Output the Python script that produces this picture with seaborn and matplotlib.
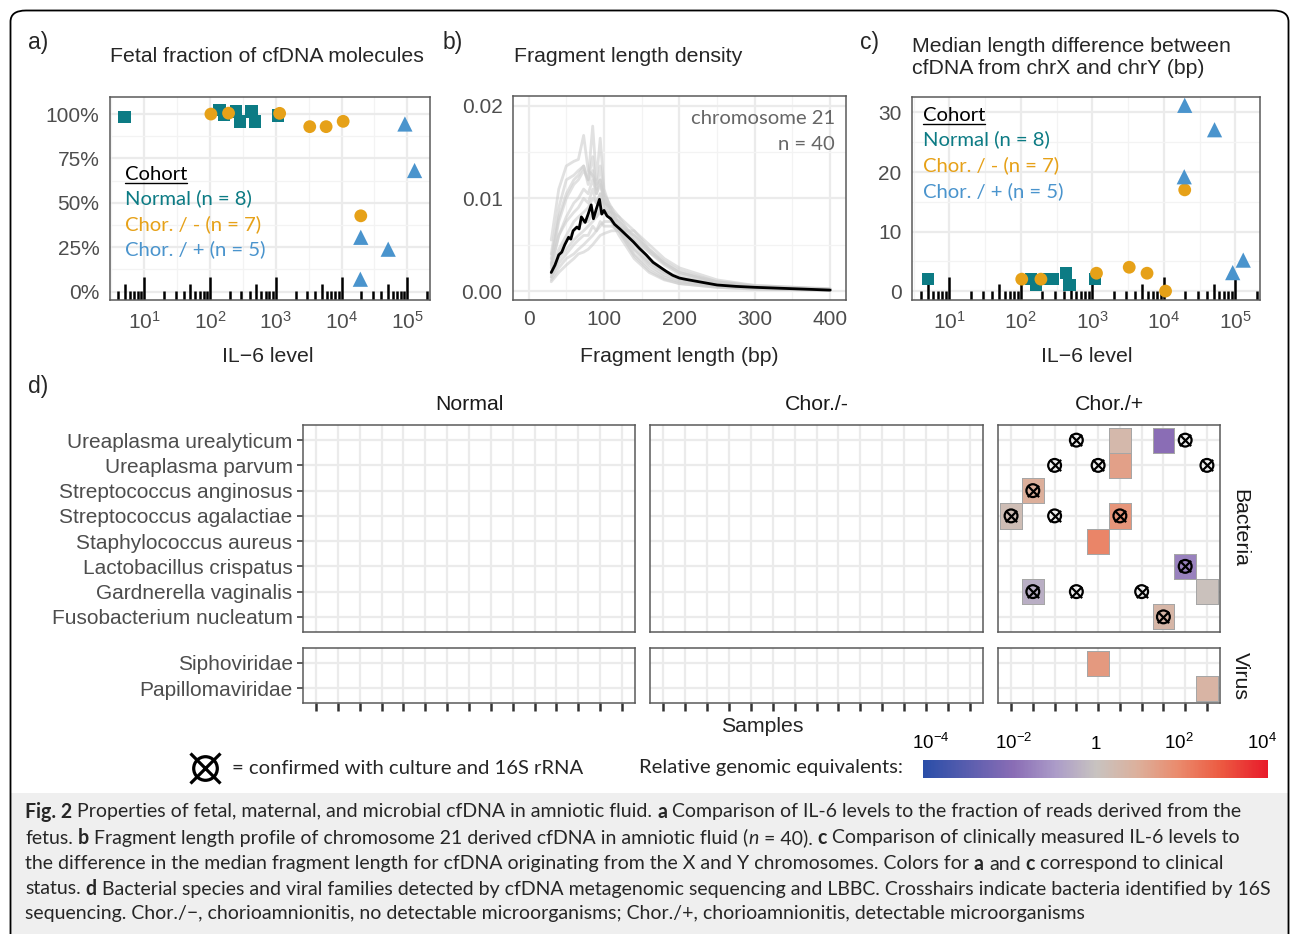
import numpy as np
import pandas as pd
import matplotlib
matplotlib.use("Agg")
import matplotlib.pyplot as plt
import matplotlib.transforms as mtransforms
from matplotlib.colors import LinearSegmentedColormap, LogNorm, to_rgba
from matplotlib.patches import FancyBboxPatch, Rectangle
from matplotlib.ticker import FixedLocator, NullFormatter
from matplotlib.cm import ScalarMappable
import seaborn as sns

# ---------------- data ----------------
cohorts = ["Normal", "Chor./-", "Chor./+"]
cohort_labels = ["Normal (n = 8)", "Chor. / - (n = 7)", "Chor. / + (n = 5)"]

il6_normal = [5, 139, 162, 250, 283, 425, 482, 1084]
fetal_normal = [98.3, 102.4, 99.6, 101.5, 95.9, 101.5, 95.9, 99.2]
lendiff_normal = [2.0, 2.0, 1.0, 2.0, 2.0, 3.0, 1.0, 2.0]

il6_chor_neg = [103, 191, 1143, 3281, 5823, 10570, 19600]
fetal_chor_neg = [100.0, 100.5, 100.4, 92.9, 92.9, 95.9, 42.7]
lendiff_chor_neg = [2.0, 2.0, 3.0, 4.0, 3.0, 0.0, 17.0]

il6_chor_pos = [19600, 19300, 51200, 91900, 129000]
fetal_chor_pos = [30.6, 7.0, 23.9, 94.4, 68.2]
lendiff_chor_pos = [31.2, 19.2, 27.1, 3.1, 5.2]

# fragment length density (chromosome 21), densities in units of 1e-3
frag_bp = [30, 40, 50, 60, 66, 73, 79, 85, 90, 95, 100, 110, 120, 140, 160, 180, 200, 250, 300, 400]
frag_samples = [
    [5.5, 11.0, 13.5, 14.0, 14.2, 16.8, 13.0, 12.5, 11.5, 12.0, 10.0, 8.0, 6.5, 4.0, 2.5, 1.5, 1.0, 0.5, 0.3, 0.1],
    [4.0, 9.0, 12.0, 12.5, 13.0, 13.5, 12.0, 17.8, 12.0, 16.5, 11.0, 8.5, 6.5, 3.8, 2.2, 1.3, 0.8, 0.4, 0.2, 0.1],
    [3.0, 7.5, 10.0, 11.5, 12.0, 13.0, 12.0, 14.5, 11.0, 13.5, 10.5, 9.0, 7.0, 4.5, 2.8, 1.7, 1.1, 0.5, 0.3, 0.1],
    [2.5, 6.0, 8.0, 9.5, 10.0, 11.0, 10.5, 12.0, 10.5, 11.5, 10.0, 8.5, 7.5, 5.0, 3.2, 2.0, 1.3, 0.6, 0.3, 0.1],
    [2.0, 4.5, 6.0, 7.5, 8.0, 8.5, 9.0, 10.0, 9.5, 10.5, 9.5, 9.0, 8.0, 5.5, 3.5, 2.2, 1.5, 0.7, 0.4, 0.15],
    [1.5, 3.5, 4.5, 5.5, 6.0, 6.5, 7.0, 7.5, 8.0, 8.5, 8.5, 8.5, 8.0, 6.5, 4.5, 3.0, 2.0, 0.9, 0.5, 0.2],
    [1.2, 2.5, 3.5, 4.0, 4.5, 5.0, 5.5, 6.0, 6.5, 7.0, 7.5, 7.5, 7.0, 6.0, 4.5, 3.2, 2.2, 1.0, 0.6, 0.2],
    [1.0, 2.0, 2.8, 3.5, 4.0, 4.2, 4.5, 5.0, 5.5, 6.0, 6.2, 6.5, 6.5, 6.5, 5.0, 3.5, 2.5, 1.2, 0.6, 0.25],
    [2.8, 6.0, 7.5, 8.5, 9.0, 10.0, 9.5, 11.0, 9.5, 10.5, 9.0, 7.5, 6.5, 4.5, 3.0, 2.0, 1.3, 0.6, 0.3, 0.1],
    [1.8, 4.0, 5.5, 6.5, 7.0, 7.5, 7.5, 8.5, 8.0, 9.0, 8.5, 8.0, 7.5, 6.0, 4.2, 2.8, 1.8, 0.8, 0.4, 0.15],
    [3.5, 8.0, 10.5, 12.0, 12.5, 13.5, 11.5, 13.0, 10.5, 12.0, 9.5, 7.5, 6.0, 3.5, 2.0, 1.2, 0.8, 0.4, 0.2, 0.1],
    [1.5, 3.0, 4.0, 5.0, 5.5, 6.0, 6.0, 7.0, 6.5, 7.5, 7.0, 7.0, 6.5, 5.5, 4.2, 3.0, 2.0, 1.0, 0.5, 0.2],
]
mean_bp = [30, 35, 40, 44, 48, 53, 56, 59, 64, 67, 70, 75, 79, 83, 86, 90, 94, 97, 100, 104, 109,
           114, 121, 130, 139, 147, 156, 165, 174, 183, 191, 200, 209, 226, 250, 275, 300, 350, 400]
mean_density = [2.0, 2.8, 3.9, 4.2, 5.0, 5.8, 5.6, 6.5, 6.9, 6.7, 8.0, 7.4, 8.3, 9.3, 7.8, 8.9, 9.9, 8.3, 8.7,
                8.1, 7.8, 7.2, 6.7, 6.0, 5.3, 4.6, 3.9, 3.1, 2.6, 2.1, 1.7, 1.4, 1.25, 1.0, 0.65, 0.5, 0.4, 0.25, 0.1]

# microbial heatmap
bacteria = ["Ureaplasma urealyticum", "Ureaplasma parvum", "Streptococcus anginosus",
            "Streptococcus agalactiae", "Staphylococcus aureus", "Lactobacillus crispatus",
            "Gardnerella vaginalis", "Fusobacterium nucleatum"]
viruses = ["Siphoviridae", "Papillomaviridae"]
n_samples = [15, 15, 10]

tile_group = ["Chor./+"] * 13
tile_taxon = ["Ureaplasma urealyticum", "Ureaplasma urealyticum", "Ureaplasma parvum",
              "Streptococcus anginosus", "Streptococcus agalactiae", "Streptococcus agalactiae",
              "Staphylococcus aureus", "Lactobacillus crispatus", "Gardnerella vaginalis",
              "Gardnerella vaginalis", "Fusobacterium nucleatum", "Siphoviridae", "Papillomaviridae"]
tile_sample = [6, 8, 6, 2, 1, 6, 5, 9, 2, 10, 8, 5, 10]
tile_value = [4.0, 0.01, 25.0, 10.0, 2.0, 50.0, 125.0, 0.03, 0.3, 1.3, 5.0, 40.0, 6.0]

cross_group = ["Chor./+"] * 14
cross_taxon = ["Ureaplasma urealyticum", "Ureaplasma urealyticum", "Ureaplasma parvum",
               "Ureaplasma parvum", "Ureaplasma parvum", "Streptococcus anginosus",
               "Streptococcus agalactiae", "Streptococcus agalactiae", "Streptococcus agalactiae",
               "Lactobacillus crispatus", "Gardnerella vaginalis", "Gardnerella vaginalis",
               "Gardnerella vaginalis", "Fusobacterium nucleatum"]
cross_sample = [4, 9, 3, 5, 10, 2, 1, 3, 6, 9, 2, 4, 7, 8]

cbar_ticks = [1e-4, 1e-2, 1, 1e2, 1e4]
cbar_ticklabels = [r"$10^{-4}$", r"$10^{-2}$", "1", r"$10^{2}$", r"$10^{4}$"]

# ---------------- style ----------------
sns.set_style("white")
plt.rcParams["font.family"] = ["Liberation Sans", "DejaVu Sans"]
plt.rcParams["mathtext.fontset"] = "custom"
plt.rcParams["mathtext.rm"] = "Liberation Sans"
plt.rcParams["mathtext.it"] = "Liberation Sans:italic"
plt.rcParams["mathtext.bf"] = "Liberation Sans:bold"

HUM = ["Lato", "DejaVu Sans"]
colors = ["#0c7b84", "#e6a118", "#4a94cd"]
palette = dict(zip(cohorts, colors))
markers = dict(zip(cohorts, ["s", "o", "^"]))
sizes = dict(zip(cohorts, [80, 85, 120]))
TICK_C = "#4d4d4d"
FRAME_C = "#5a5a5a"
GRID_C = "#ebebeb"
FS = 15.3
TFS = 15.0
LEG_FS = 14.6

W, H = 1290, 934
fig = plt.figure(figsize=(W / 100, H / 100), dpi=100)
renderer = fig.canvas.get_renderer()


def px_axes(l, t, r, b):
    return fig.add_axes([l / W, 1 - b / H, (r - l) / W, (b - t) / H])


def ftext(x, y, s, **kw):
    return fig.text(x / W, 1 - y / H, s, **kw)


# frame + caption background
fig.patches.append(Rectangle((11 / W, 0), 1277 / W, (934 - 793) / H, transform=fig.transFigure,
                             fc="#efefef", ec="none", zorder=-5))
fig.patches.append(FancyBboxPatch((10.5 / W, -0.05), 1278 / W, 1.05 - 10.5 / H,
                                  boxstyle="round,pad=0,rounding_size=0.012", transform=fig.transFigure,
                                  fc="none", ec="black", lw=1.3, zorder=10))


def style_axes(ax):
    for sp in ax.spines.values():
        sp.set_visible(True)
        sp.set_color(FRAME_C)
        sp.set_linewidth(1.1)
    ax.tick_params(axis="both", which="major", length=4.5, width=1.1, color="#333333",
                   labelcolor=TICK_C, labelsize=TFS, pad=3)
    ax.tick_params(which="minor", length=0)
    ax.set_axisbelow(True)
    ax.grid(True, which="major", color=GRID_C, lw=1.6)
    ax.grid(True, which="minor", color="#f3f3f3", lw=0.9)
    ax.set_xlabel("")
    ax.set_ylabel("")


# combined cohort data frame
df_cf = pd.DataFrame({
    "il6": il6_normal + il6_chor_neg + il6_chor_pos,
    "fetal": fetal_normal + fetal_chor_neg + fetal_chor_pos,
    "lendiff": lendiff_normal + lendiff_chor_neg + lendiff_chor_pos,
    "cohort": ["Normal"] * len(il6_normal) + ["Chor./-"] * len(il6_chor_neg) + ["Chor./+"] * len(il6_chor_pos),
})

XLO, XHI = 10 ** 0.478, 10 ** 5.345


def log_panel(ax, ycol, ylim, yticks, ylabels, yminor):
    sns.scatterplot(data=df_cf, x="il6", y=ycol, hue="cohort", style="cohort", size="cohort",
                    palette=palette, markers=markers, sizes=sizes, hue_order=cohorts,
                    style_order=cohorts, size_order=cohorts, linewidth=0, legend=False,
                    ax=ax, zorder=3)
    ax.set_xscale("log")
    ax.set_xlim(XLO, XHI)
    ax.set_ylim(*ylim)
    ax.xaxis.set_major_locator(FixedLocator([1e1, 1e2, 1e3, 1e4, 1e5]))
    ax.xaxis.set_minor_locator(FixedLocator([10 ** (k + 0.5) for k in range(0, 6)]))
    ax.xaxis.set_minor_formatter(NullFormatter())
    ax.set_yticks(yticks)
    ax.set_yticklabels(ylabels)
    ax.yaxis.set_minor_locator(FixedLocator(yminor))
    style_axes(ax)
    # annotation_logticks at the bottom
    axh = ax.get_position().height * H
    xs, hs = [], []
    for k in range(0, 6):
        for m in range(1, 10):
            v = m * 10 ** k
            if XLO <= v <= XHI:
                xs.append(v)
                hs.append((23 if m == 1 else 16 if m == 5 else 9) / axh)
    trans = mtransforms.blended_transform_factory(ax.transData, ax.transAxes)
    ax.vlines(xs, 0, hs, transform=trans, color="black", lw=1.8, zorder=2)
    ax.set_xlim(XLO, XHI)
    ax.set_ylim(*ylim)


def cohort_legend(x, ys):
    t = ftext(x, ys[0], "Cohort", family=HUM, size=LEG_FS, color="black", va="baseline")
    bb = t.get_window_extent(renderer)
    y_ul = 1 - (ys[0] + 2.5) / H
    fig.add_artist(plt.Line2D([bb.x0 / W, bb.x1 / W], [y_ul, y_ul], transform=fig.transFigure,
                              color="black", lw=1.0))
    for lab, col, y in zip(cohort_labels, colors, ys[1:]):
        ftext(x, y, lab, family=HUM, size=LEG_FS, color=col, va="baseline")


# ---------- panel a ----------
ax_a = px_axes(110, 97, 430, 300)
log_panel(ax_a, "fetal", (-4.7, 109.6), [0, 25, 50, 75, 100], ["0%", "25%", "50%", "75%", "100%"],
          [12.5, 37.5, 62.5, 87.5])
cohort_legend(125, [180, 204.5, 230.5, 255.5])
ftext(110, 57, "Fetal fraction of cfDNA molecules", size=FS, va="center", ha="left")
ftext(268, 357, "IL\u22126 level", size=FS, va="center", ha="center")

# ---------- panel b ----------
ax_b = px_axes(513, 96, 846, 300)
df_frag = pd.DataFrame({
    "bp": np.tile(frag_bp, len(frag_samples)),
    "density": np.concatenate(frag_samples) * 1e-3,
    "sample": np.repeat(np.arange(len(frag_samples)), len(frag_bp)),
})
sns.lineplot(data=df_frag, x="bp", y="density", units="sample", estimator=None, color="#cdcdcd",
             alpha=0.6, lw=2.0, ax=ax_b)
sns.lineplot(x=mean_bp, y=np.array(mean_density) * 1e-3, color="black", lw=2.0, ax=ax_b)
ax_b.set_xlim(-20.7, 421)
ax_b.set_ylim(-0.00097, 0.02105)
ax_b.set_xticks([0, 100, 200, 300, 400])
ax_b.xaxis.set_minor_locator(FixedLocator([50, 150, 250, 350]))
ax_b.set_yticks([0.0, 0.01, 0.02])
ax_b.set_yticklabels(["0.00", "0.01", "0.02"])
ax_b.yaxis.set_minor_locator(FixedLocator([0.005, 0.015]))
style_axes(ax_b)
ftext(835, 124, "chromosome 21", family=HUM, size=LEG_FS, color="#666666", ha="right", va="baseline")
ftext(835, 150, "n = 40", family=HUM, size=LEG_FS, color="#666666", ha="right", va="baseline")
ftext(514, 57, "Fragment length density", size=FS, va="center", ha="left")
ftext(679, 357, "Fragment length (bp)", size=FS, va="center", ha="center")

# ---------- panel c ----------
ax_c = px_axes(912, 97, 1260, 300)
log_panel(ax_c, "lendiff", (-1.5, 32.6), [0, 10, 20, 30], ["0", "10", "20", "30"], [5, 15, 25])
cohort_legend(923, [121, 145.5, 171.5, 197])
ftext(912, 46, "Median length difference between", size=FS, va="center", ha="left")
ftext(912, 68, "cfDNA from chrX and chrY (bp)", size=FS, va="center", ha="left")
ftext(1087, 357, "IL\u22126 level", size=FS, va="center", ha="center")

# panel letters
for lab, x, y in [("a)", 28, 42), ("b)", 443, 42), ("c)", 860, 42), ("d)", 28, 386)]:
    ftext(x, y, lab, size=16.5, va="center", ha="left")

# ---------- panel d ----------
lo_e, hi_e = -4.19, 4.16
cmap_nodes = [(-4.19, "#2a4ea8"), (-2.0, "#8a6db5"), (-1.0, "#ab9bc8"), (0.0, "#c8c3c0"),
              (1.0, "#dcb09c"), (2.0, "#ea8a6c"), (3.0, "#ec5b42"), (4.16, "#e81a2a")]
cmap = LinearSegmentedColormap.from_list(
    "rge", [((v - lo_e) / (hi_e - lo_e), c) for v, c in cmap_nodes])
norm = LogNorm(vmin=10 ** lo_e, vmax=10 ** hi_e)

facet_x = [(303, 635), (650, 983), (998, 1220)]
facet_rows = [(425, 632, bacteria), (648, 703, viruses)]
edge_rgba = np.array(to_rgba("#a6a6a6"))

for gi, g in enumerate(cohorts):
    n = n_samples[gi]
    l, r = facet_x[gi]
    for ri, (t, b, taxa) in enumerate(facet_rows):
        ax = px_axes(l, t, r, b)
        mat = pd.DataFrame(np.nan, index=taxa, columns=np.arange(1, n + 1), dtype=float)
        for gg, tx, sm, v in zip(tile_group, tile_taxon, tile_sample, tile_value):
            if gg == g and tx in taxa:
                mat.loc[tx, sm] = v
        if mat.notna().values.any():
            sns.heatmap(mat, ax=ax, cmap=cmap, norm=norm, cbar=False, linewidths=0.55,
                        linecolor="#a6a6a6", xticklabels=False, yticklabels=False)
            mesh = ax.collections[-1]
            empty = np.isnan(mat.values).ravel()
            ec = np.tile(edge_rgba, (empty.size, 1))
            ec[empty] = [0, 0, 0, 0]
            mesh.set_edgecolor(ec)
        cx, cy = [], []
        for gg, tx, sm in zip(cross_group, cross_taxon, cross_sample):
            if gg == g and tx in taxa:
                cx.append(sm - 0.5)
                cy.append(taxa.index(tx) + 0.5)
        if cx:
            ax.scatter(cx, cy, s=85, marker="o", facecolors="none", edgecolors="black", lw=1.6, zorder=5)
            ax.scatter(cx, cy, s=66, marker="x", color="black", lw=1.6, zorder=5)
        ax.set_xlim(-0.1, n + 0.1)
        ax.set_ylim(len(taxa) + 0.1, -0.1)
        ax.set_xticks(np.arange(n) + 0.5)
        ax.set_yticks(np.arange(len(taxa)) + 0.5)
        ax.set_axisbelow(True)
        ax.grid(True, which="major", color=GRID_C, lw=1.6)
        for sp in ax.spines.values():
            sp.set_visible(True)
            sp.set_color(FRAME_C)
            sp.set_linewidth(1.1)
        ax.set_xlabel("")
        ax.set_ylabel("")
        ax.set_xticklabels([])
        show_y = gi == 0
        show_x = ri == 1
        if show_y:
            ax.set_yticklabels(taxa)
        else:
            ax.set_yticklabels([])
        ax.tick_params(axis="y", left=show_y, length=4.5, width=1.1, color="#333333",
                       labelcolor=TICK_C, labelsize=TFS, pad=3)
        ax.tick_params(axis="x", bottom=show_x, length=6, width=1.8, color="#333333")
        ax.tick_params(axis="both", top=False, right=False)
    ftext((l + r) / 2, 405, g, size=FS, color="#1a1a1a", ha="center", va="center")

ftext(1240, 528, "Bacteria", size=FS, color="#1a1a1a", ha="center", va="center", rotation=270)
ftext(1240, 676, "Virus", size=FS, color="#1a1a1a", ha="center", va="center", rotation=270)
ftext(762, 727, "Samples", size=FS, ha="center", va="center")

# crosshair legend
ax_leg = px_axes(186, 750, 224, 786)
ax_leg.set_xlim(-1, 1)
ax_leg.set_ylim(-1, 1)
ax_leg.axis("off")
ax_leg.plot([0], [0], marker="o", ms=17, mfc="none", mec="black", mew=2.3)
ax_leg.plot([0], [0], marker="x", ms=21, mec="black", mew=2.3)
ftext(232, 768, "= confirmed with culture and 16S rRNA", family=HUM, size=LEG_FS, ha="left", va="center")
ftext(903, 768, "Relative genomic equivalents:", family=HUM, size=LEG_FS, ha="right", va="center")

# colour bar
cax = px_axes(922.7, 760, 1268.3, 778)
sm = ScalarMappable(norm=norm, cmap=cmap)
cb = fig.colorbar(sm, cax=cax, orientation="horizontal", ticks=cbar_ticks)
cb.outline.set_visible(False)
cax.minorticks_off()
cb.set_ticks(cbar_ticks)
cb.set_ticklabels(cbar_ticklabels)
cax.tick_params(axis="x", which="major", direction="in", color="white", length=3, width=1,
                top=True, bottom=True, labeltop=True, labelbottom=False, labelsize=13.5,
                labelcolor="black", pad=5)

# ---------- caption ----------
CAP = ["Lato", "DejaVu Sans"]
captions = [
    [("Fig. 2", "bold", "normal"), (" Properties of fetal, maternal, and microbial cfDNA in amniotic fluid. ", "normal", "normal"),
     ("a", "bold", "normal"), (" Comparison of IL-6 levels to the fraction of reads derived from the", "normal", "normal")],
    [("fetus. ", "normal", "normal"), ("b", "bold", "normal"),
     (" Fragment length profile of chromosome 21 derived cfDNA in amniotic fluid (", "normal", "normal"),
     ("n", "normal", "italic"), (" = 40). ", "normal", "normal"), ("c", "bold", "normal"),
     (" Comparison of clinically measured IL-6 levels to", "normal", "normal")],
    [("the difference in the median fragment length for cfDNA originating from the X and Y chromosomes. Colors for ", "normal", "normal"),
     ("a", "bold", "normal"), (" and ", "normal", "normal"), ("c", "bold", "normal"),
     (" correspond to clinical", "normal", "normal")],
    [("status. ", "normal", "normal"), ("d", "bold", "normal"),
     (" Bacterial species and viral families detected by cfDNA metagenomic sequencing and LBBC. Crosshairs indicate bacteria identified by 16S", "normal", "normal")],
    [("sequencing. Chor./\u2212, chorioamnionitis, no detectable microorganisms; Chor./+, chorioamnionitis, detectable microorganisms", "normal", "normal")],
]
cap_y = [812, 838, 864, 889, 914]


def measure(s, size, weight="normal", style="normal"):
    t = fig.text(0, 0, s, family=CAP, size=size, fontweight=weight, fontstyle=style)
    w = t.get_window_extent(renderer).width
    t.remove()
    return w


def line_width(pieces, size):
    sp = measure("x x", size) - measure("xx", size)
    tot = 0
    for s, wgt, sty in pieces:
        lead = len(s) - len(s.lstrip(" "))
        trail = len(s) - len(s.rstrip(" "))
        tot += (lead + trail) * sp + measure(s.strip(" "), size, wgt, sty)
    return tot, sp


base = 13.0
w4, _ = line_width(captions[3], base)
cap_fs = base * 1245.0 / w4
for pieces, y in zip(captions, cap_y):
    _, sp = line_width(pieces, cap_fs)
    x = 25.0
    for s, wgt, sty in pieces:
        lead = len(s) - len(s.lstrip(" "))
        trail = len(s) - len(s.rstrip(" "))
        x += lead * sp
        core = s.strip(" ")
        t = ftext(x, y, core, family=CAP, size=cap_fs, fontweight=wgt, fontstyle=sty, ha="left", va="center")
        x += t.get_window_extent(renderer).width + trail * sp

fig.savefig("out.png", dpi=100)
